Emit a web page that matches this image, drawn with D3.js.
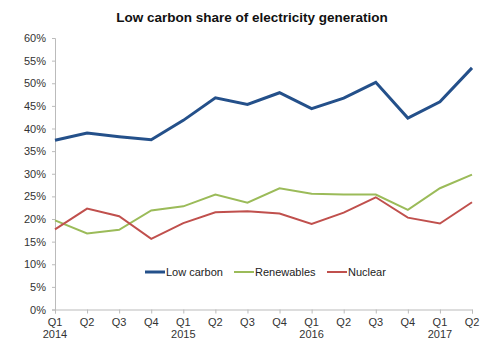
<!DOCTYPE html>
<html><head><meta charset="utf-8">
<script src="https://cdn.jsdelivr.net/npm/d3@7"></script>
<style>body{margin:0;background:#fff}svg{display:block;font-family:"Liberation Sans",Arial,sans-serif}</style>
</head><body><svg id="c" width="500" height="359"></svg>
<script>
const quarters = ["Q1","Q2","Q3","Q4","Q1","Q2","Q3","Q4","Q1","Q2","Q3","Q4","Q1","Q2"];
const years = ["2014","","","","2015","","","","2016","","","","2017",""];
const lowCarbon = [37.4,39.0,38.2,37.5,41.8,46.8,45.3,47.9,44.4,46.7,50.2,42.3,45.9,53.4];
const renewables = [19.7,16.8,17.6,21.9,22.8,25.4,23.6,26.8,25.6,25.4,25.4,22.0,26.8,29.8];
const nuclear = [17.7,22.3,20.6,15.6,19.1,21.5,21.7,21.2,18.9,21.4,24.8,20.3,19.0,23.7];
const yTicks = [0,5,10,15,20,25,30,35,40,45,50,55,60];
const seriesNames = ["Low carbon","Renewables","Nuclear"];
const seriesColors = ["#24508a","#9bbb59","#c0504d"];
const seriesWidths = [3,2,2];

const svg = d3.select("#c");
const x = d3.scaleLinear().domain([0, quarters.length-1]).range([55,472]);
const y = d3.scaleLinear().domain([0,60]).range([309.5,38]);

svg.append("text").attr("x",252).attr("y",22).attr("text-anchor","middle")
  .attr("font-weight","bold").attr("font-size",13.5).attr("fill","#111")
  .text("Low carbon share of electricity generation");

const gy = svg.append("g").attr("transform","translate(55,0)")
  .call(d3.axisLeft(y).tickValues(yTicks).tickFormat(d=>d+"%").tickSize(3).tickPadding(6));
gy.select(".domain").attr("stroke","#bbb");
gy.selectAll("line").attr("stroke","#bbb");
gy.selectAll("text").attr("font-size",11).attr("fill","#333").attr("font-family","Liberation Sans, Arial, sans-serif");

const gx = svg.append("g").attr("transform","translate(0,309.5)")
  .call(d3.axisBottom(x).tickValues(d3.range(quarters.length)).tickFormat("").tickSizeOuter(0).tickSize(4));
gx.select(".domain").attr("stroke","#bbb");
gx.selectAll("line").attr("stroke","#bbb");
const lbl = svg.append("g").attr("font-size",11).attr("fill","#333").attr("text-anchor","middle");
quarters.forEach((q,i)=>{
  lbl.append("text").attr("x",x(i)).attr("y",326).text(q);
  if (years[i]) lbl.append("text").attr("x",x(i)).attr("y",338).text(years[i]);
});

const data = [lowCarbon, renewables, nuclear];
const line = d3.line().x((d,i)=>x(i)).y(d=>y(d));
// draw order: renewables, nuclear, then low carbon on top
[1,2,0].forEach(k=>{
  svg.append("path").datum(data[k]).attr("d",line).attr("fill","none")
    .attr("stroke",seriesColors[k]).attr("stroke-width",seriesWidths[k]).attr("stroke-linejoin","miter");
});

const legX = [145,234,327];
const lg = svg.append("g").attr("font-size",11).attr("fill","#222");
seriesNames.forEach((n,k)=>{
  lg.append("line").attr("x1",legX[k]).attr("x2",legX[k]+20).attr("y1",272).attr("y2",272)
    .attr("stroke",seriesColors[k]).attr("stroke-width",seriesWidths[k]);
  lg.append("text").attr("x",legX[k]+21).attr("y",276).text(n);
});
</script></body></html>
